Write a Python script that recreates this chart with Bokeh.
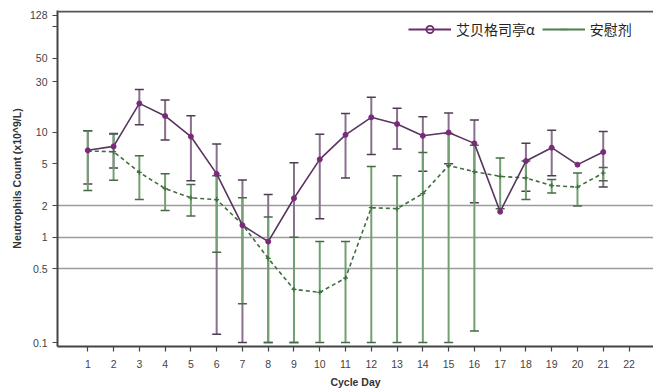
from bokeh.plotting import figure
from bokeh.models import (ColumnDataSource, Whisker, TeeHead, FixedTicker, Legend,
                          LegendItem, Span, Range1d)
from bokeh.embed import file_html
from bokeh.resources import INLINE

# ---------------- data ----------------
days = list(range(1, 22))
x_ticks = list(range(1, 23))
y_ticks = [0.1, 0.5, 1, 2, 5, 10, 30, 50, 100, 128]
y_tick_labels = ["0.1", "0.5", "1", "2", "5", "10", "30", "50", "", "128"]
grid_levels = [0.5, 1, 2]

series_a_name = "艾贝格司亭α"
abg_mean = [6.7, 7.3, 18.7, 14.2, 9.05, 4.0, 1.3, 0.91, 2.35, 5.5, 9.4,
            13.8, 11.9, 9.2, 9.9, 7.8, 1.75, 5.3, 7.1, 4.9, 6.45]
abg_upper = [10.3, 9.7, 25.4, 20.1, 14.3, 7.7, 3.5, 2.55, 5.1, 9.5, 15.0,
             21.4, 16.8, 14.0, 15.2, 13.0, None, 7.84, 10.4, None, 10.1]
abg_lower = [3.2, 4.55, 11.7, 8.4, 3.45, 0.12, 0.1, 0.1, 0.1, 1.5, 3.66,
             6.1, 6.9, 4.25, 5.0, 2.13, None, 2.74, 3.85, None, 3.0]

series_b_name = "安慰剂"
pbo_mean = [6.6, 6.5, 4.14, 2.9, 2.37, 2.28, 1.32, 0.63, 0.32, 0.30, 0.41,
            1.91, 1.87, 2.6, 4.8, 4.2, 3.79, 3.66, 3.1, 3.0, 4.08]
pbo_upper = [10.3, 9.6, 5.95, 4.02, 3.17, 3.85, 2.37, 1.56, 1.0, 0.91, 0.91,
             4.71, 3.85, 6.4, 9.7, 7.5, 5.66, 5.3, 3.53, 4.08, 4.6]
pbo_lower = [2.78, 3.48, 2.28, 1.8, 1.59, 0.72, 0.233, 0.1, 0.1, 0.1, 0.1,
             0.1, 0.1, 0.1, 0.1, 0.129, 1.87, 2.28, 2.64, 1.98, 3.45]

# ---------------- styles ----------------
PURPLE_LINE = "#5a3460"
PURPLE_MARK = "#7a2a7a"
PURPLE_BAR = "#8a6f8e"
PURPLE_CAP = "#4e3c52"
GREEN_LINE = "#3f6f3f"
GREEN_BAR = "#72a072"
GREEN_CAP = "#466a46"
FONT = "Liberation Sans"
NAN = float("nan")

p = figure(width=653, height=390, y_axis_type="log",
           x_range=Range1d(-0.176, 22.95), y_range=Range1d(0.0917, 142.7),
           output_backend="svg", toolbar_location=None,
           min_border_left=57, min_border_right=0, min_border_top=10,
           min_border_bottom=42)
p.outline_line_color = None
p.background_fill_color = "white"

def err_source(xs, up, lo):
    d = {"x": [], "upper": [], "lower": []}
    for x, u, l in zip(xs, up, lo):
        if u is None or l is None:
            continue
        d["x"].append(x)
        d["upper"].append(u)
        d["lower"].append(l)
    return ColumnDataSource(d)

src_a_err = err_source(days, abg_upper, abg_lower)
src_b_err = err_source(days, pbo_upper, pbo_lower)

w_a = Whisker(source=src_a_err, base="x", upper="upper", lower="lower",
              dimension="height", line_color=PURPLE_BAR, line_width=2,
              upper_head=TeeHead(size=9, line_color=PURPLE_CAP, line_width=1.5),
              lower_head=TeeHead(size=9, line_color=PURPLE_CAP, line_width=1.5))
w_b = Whisker(source=src_b_err, base="x", upper="upper", lower="lower",
              dimension="height", line_color=GREEN_BAR, line_width=2,
              upper_head=TeeHead(size=9, line_color=GREEN_CAP, line_width=1.5),
              lower_head=TeeHead(size=9, line_color=GREEN_CAP, line_width=1.5))
p.add_layout(w_a)
p.add_layout(w_b)

src_a = ColumnDataSource(dict(x=days, y=abg_mean))
src_b = ColumnDataSource(dict(x=days, y=pbo_mean))

p.line("x", "y", source=src_b, line_color=GREEN_LINE, line_width=1.6,
       line_dash="4 3")
p.scatter("x", "y", source=src_b, marker="cross", size=5,
          line_color=GREEN_LINE, line_width=1.2)
p.line("x", "y", source=src_a, line_color=PURPLE_LINE, line_width=1.6)
p.scatter("x", "y", source=src_a, marker="circle", size=5,
          fill_color=PURPLE_MARK, line_color=PURPLE_MARK)

# legend-only glyphs (not drawn in the plot area: NaN positions)
la = p.line([NAN], [NAN], line_color="#6b2d6b", line_width=2)
ma = p.scatter([NAN], [NAN], marker="circle", size=10, fill_color="white",
               fill_alpha=0, line_color="#6b2d6b", line_width=1.8)
lb = p.line([NAN], [NAN], line_color="#4f7f4f", line_width=2)
mb = p.scatter([NAN], [NAN], marker="dash", angle=1.5708, size=11,
               line_color="#4f7f4f", line_width=1.5)
legend = Legend(items=[LegendItem(label=series_a_name, renderers=[la, ma]),
                       LegendItem(label=series_b_name, renderers=[lb, mb])],
                orientation="horizontal", location=(351, 307),
                glyph_width=43, glyph_height=18, label_standoff=5, spacing=7,
                padding=2, margin=0, border_line_color=None,
                background_fill_alpha=0,
                label_text_font="Noto Sans CJK SC",
                label_text_font_size="14px", label_text_color="#222222")
p.add_layout(legend)

# top border line
p.add_layout(Span(location=139.6, dimension="width", line_color="#555555",
                  line_width=2))

# grid
p.xgrid.grid_line_color = None
p.ygrid.ticker = FixedTicker(ticks=grid_levels)
p.ygrid.grid_line_color = "#9c9c9c"
p.ygrid.grid_line_width = 1.5

# axes
p.xaxis.ticker = FixedTicker(ticks=x_ticks)
p.yaxis.ticker = FixedTicker(ticks=y_ticks)
p.yaxis.major_label_overrides = {t: lab for t, lab in zip(y_ticks, y_tick_labels)}
for ax in (p.xaxis, p.yaxis):
    ax.axis_line_color = "#444444"
    ax.axis_line_width = 2
    ax.major_tick_line_color = "#444444"
    ax.major_tick_line_width = 1.2
    ax.major_tick_in = 0
    ax.major_tick_out = 5
    ax.minor_tick_line_color = None
    ax.major_label_text_font = FONT
    ax.major_label_text_font_size = "10.5px"
    ax.major_label_text_color = "#444444"
    ax.axis_label_text_font = FONT
    ax.axis_label_text_font_size = "10.5px"
    ax.axis_label_text_font_style = "bold"
    ax.axis_label_text_color = "#333333"
p.xaxis.major_label_standoff = 8
p.xaxis.axis_label_standoff = 5
p.yaxis.major_label_standoff = 5
p.yaxis.axis_label_standoff = 4
p.xaxis.axis_label = "Cycle Day"
p.yaxis.axis_label = "Neutrophils Count (x10^9/L)"

open("out.html", "w").write(file_html(p, INLINE))
